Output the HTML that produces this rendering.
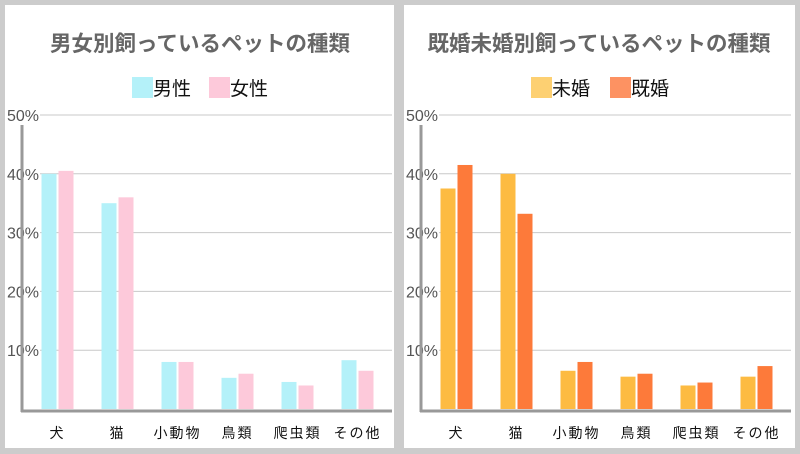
<!DOCTYPE html>
<html><head><meta charset="utf-8"><style>
body{margin:0;background:#ccc;width:800px;height:454px;overflow:hidden}
svg{display:block}
text{font-family:"Liberation Sans","Noto Sans CJK JP",sans-serif}
</style></head><body>
<svg id="c" width="800" height="454"></svg>
<script>
const categories=["犬","猫","小動物","鳥類","爬虫類","その他"];
const maleVals=[40,35,8,5.3,4.6,8.3];
const femaleVals=[40.5,36,8,6,4,6.5];
const unmarriedVals=[37.5,40,6.5,5.5,4,5.5];
const marriedVals=[41.5,33.2,8,6,4.5,7.3];
const yTicks=[10,20,30,40,50];
const tickLabels=["10%","20%","30%","40%","50%"];
const NS="http://www.w3.org/2000/svg";
const svg=document.getElementById('c');
function mk(tag,attrs,parent){const e=document.createElementNS(NS,tag);for(const k in attrs)e.setAttribute(k,attrs[k]);(parent||svg).appendChild(e);return e;}
const y=v=>409-v*5.88;
const panels=[
 {ox:0,w:389,title:"男女別飼っているペットの種類",names:["男性","女性"],series:[maleVals,femaleVals],colors:["#b4f1f9","#fdc9da"],leg:["#b4f1f9","#fdc9da"],lx:[132,209]},
 {ox:399,w:391,title:"既婚未婚別飼っているペットの種類",names:["未婚","既婚"],series:[unmarriedVals,marriedVals],colors:["#fdbb42","#fd7a3a"],leg:["#fdd072","#fd9262"],lx:[132,211]}
];
panels.forEach((p,pi)=>{
 const g=mk('g',{transform:`translate(${p.ox},0)`});
 
 
 const bg=mk('rect',{x:5,y:5,width:p.w,height:443,fill:'#fff'},g);
 
 
 const t=mk('text',{x:200,y:51,'text-anchor':'middle','font-size':'21.5','font-weight':'bold',fill:'#666'},g);
 t.textContent=p.title;
 
 
 p.names.forEach((n,i)=>{
  const r=mk('rect',{x:p.lx[i],y:77,width:21,height:21,fill:p.leg[i]},g);
  
  
  const tx=mk('text',{x:p.lx[i]+21,y:95,'font-size':'19',fill:'#111'},g);
  tx.textContent=n;
  
  
 });
 yTicks.forEach((v,i)=>{
  const l=mk('line',{x1:40,x2:392,y1:y(v),y2:y(v),stroke:'#c8c8c8','stroke-width':1},g);
  
  
  const tx=mk('text',{x:39,y:y(v)+6,'text-anchor':'end','font-size':'16',fill:'#555'},g);
  tx.textContent=tickLabels[i];
  
  
 });
 const ax=mk('line',{x1:22,x2:22,y1:125,y2:412,stroke:'#999','stroke-width':3},g);
 
 
 const bx=mk('line',{x1:21,x2:392,y1:411,y2:411,stroke:'#999','stroke-width':3},g);
 
 
 categories.forEach((c,ci)=>{
  const cx=57.5+ci*60;
  p.series.forEach((s,si)=>{
   const bxp=cx-16+si*17;
   const r=mk('rect',{x:bxp,y:y(s[ci]),width:15,height:409-y(s[ci]),fill:p.colors[si]},g);
   
   
  });
  const tx=mk('text',{x:cx,y:438,'text-anchor':'middle','font-size':'14',fill:'#111','letter-spacing':'2'},g);
  tx.textContent=c;
  
  
 });
});
</script>
</body></html>
